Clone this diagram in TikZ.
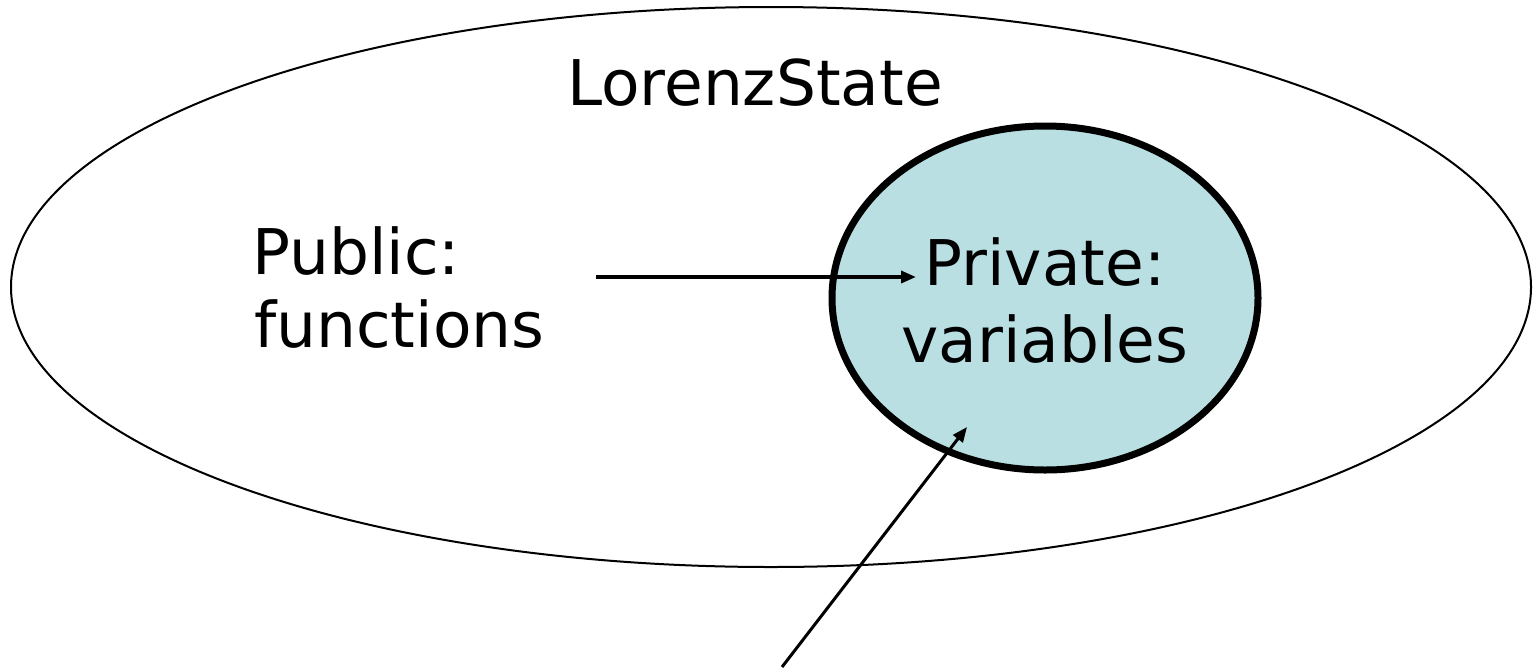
\documentclass[tikz,border=0pt]{standalone}
\usepackage{fontspec}
\setmainfont{DejaVu Sans}
\usetikzlibrary{arrows.meta}
\definecolor{privfill}{HTML}{B9DFE3}
\begin{document}
\begin{tikzpicture}[x=1pt,y=-1pt,
  lbl/.style={inner sep=0pt,font=\fontsize{63}{64}\selectfont},
  conn/.style={-{Triangle[length=15pt,width=12pt]}}]
\useasboundingbox (0,0) rectangle (1533,670);
\draw[line width=2pt] (771,287) ellipse [x radius=760, y radius=280];
\draw[line width=7pt,fill=privfill] (1045,298) ellipse [x radius=213, y radius=172];
\node[lbl,anchor=base] (title) at (755,105) {LorenzState};
\node[lbl,anchor=base west] (pub1) at (252,274) {Public:};
\node[lbl,anchor=base west] (pub2) at (254,347) {functions};
\node[lbl,anchor=base] (priv1) at (1045,285) {Private:};
\node[lbl,anchor=base] (priv2) at (1045,362) {variables};
\coordinate (a1s) at (596,277);
\coordinate (a1e) at (916,277);
\coordinate (a2s) at (782,667);
\coordinate (a2e) at (967,427);
\draw[conn,line width=3.5pt] (a1s) -- (a1e);
\draw[conn,line width=3pt] (a2s) -- (a2e);
\end{tikzpicture}
\end{document}
